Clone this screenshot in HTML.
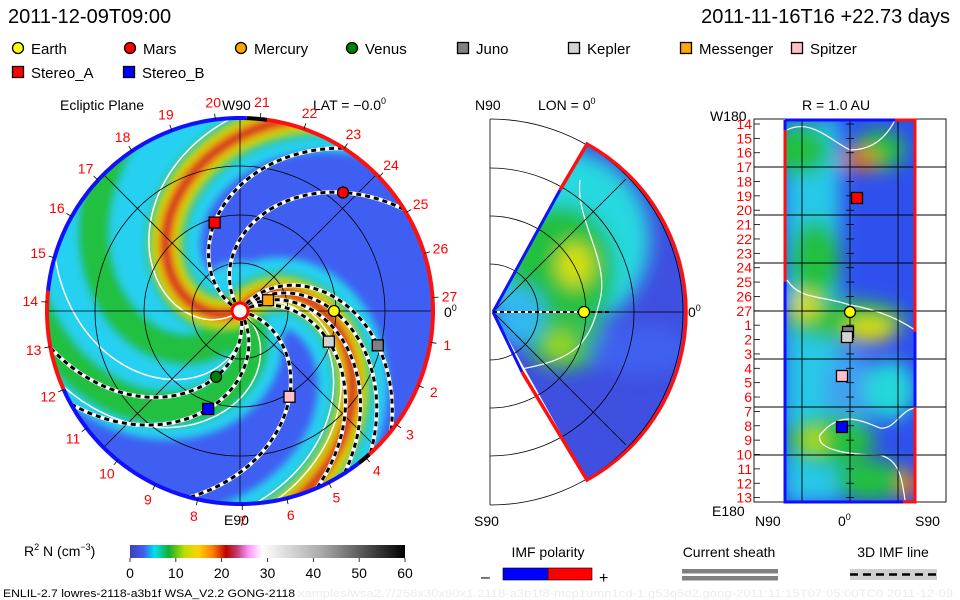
<!DOCTYPE html>
<html><head><meta charset="utf-8"><style>
html,body{margin:0;padding:0;background:#fff}
svg{display:block}
text{font-family:"Liberation Sans",sans-serif}
</style></head><body>
<svg id="s" width="960" height="600" viewBox="0 0 960 600" xmlns="http://www.w3.org/2000/svg">
<defs>
<filter id="bl" x="-20%" y="-20%" width="140%" height="140%"><feGaussianBlur stdDeviation="4"/></filter>
<filter id="bl2" x="-20%" y="-20%" width="140%" height="140%"><feGaussianBlur stdDeviation="9"/></filter>
<clipPath id="disk"><circle cx="240" cy="311" r="193"/></clipPath>
<clipPath id="wedge"><path d="M493,312 L587,144 A192,192 0 0 1 587,480 Z"/></clipPath>
<clipPath id="rect"><rect x="785" y="120" width="130" height="382"/></clipPath>
<linearGradient id="cb" x1="0" x2="1" y1="0" y2="0">
<stop offset="0" stop-color="#4040b0"/><stop offset="0.05" stop-color="#4060f0"/><stop offset="0.09" stop-color="#00e0f0"/>
<stop offset="0.14" stop-color="#10b030"/><stop offset="0.2" stop-color="#c0e000"/><stop offset="0.25" stop-color="#ffd000"/>
<stop offset="0.3" stop-color="#ff8000"/><stop offset="0.35" stop-color="#c00000"/><stop offset="0.39" stop-color="#c04070"/>
<stop offset="0.43" stop-color="#ff90ff"/><stop offset="0.48" stop-color="#ffffff"/><stop offset="0.7" stop-color="#a8a8a8"/><stop offset="1" stop-color="#000"/>
</linearGradient>
</defs>
<text x="8" y="23" font-size="20">2011-12-09T09:00</text>
<text x="950" y="23" font-size="20" text-anchor="end">2011-11-16T16 +22.73 days</text>
<g id="legend"></g>

<g>
<text x="60" y="110" font-size="14">Ecliptic Plane</text>
<text x="222" y="110" font-size="14">W90</text>
<text x="313" y="110" font-size="14">LAT = −0.0<tspan font-size="9" dy="-6">0</tspan></text>
<text x="224" y="525" font-size="14">E90</text>
<text x="444" y="317" font-size="14">0<tspan font-size="9" dy="-6">0</tspan></text>
<g clip-path="url(#disk)">
<rect x="40" y="110" width="400" height="400" fill="#3f5ff2"/>
<g id="bands" filter="url(#bl)"></g>
<g id="sheath"></g>
<g id="grid1" stroke="#000" stroke-width="0.8" fill="none"></g>
<g id="fieldlines"></g>
</g>
<g id="border1"></g>
<g id="labels1"></g>
<circle cx="240" cy="311" r="8" fill="#fff" stroke="#f00" stroke-width="3"/>
<g id="planets"></g>
</g>

<g>
<text x="475" y="110" font-size="14">N90</text>
<text x="538" y="110" font-size="14">LON = 0<tspan font-size="9" dy="-6">0</tspan></text>
<text x="474" y="526" font-size="14">S90</text>
<text x="688" y="317" font-size="14">0<tspan font-size="9" dy="-6">0</tspan></text>
<g clip-path="url(#wedge)">
<rect x="490" y="140" width="200" height="345" fill="#3f4fe0"/>
<g filter="url(#bl2)">
<ellipse cx="560" cy="240" rx="90" ry="90" fill="#28d8e0"/>
<ellipse cx="560" cy="270" rx="55" ry="65" fill="#20c040"/>
<ellipse cx="575" cy="265" rx="18" ry="22" fill="#d8e000"/>
<ellipse cx="565" cy="340" rx="40" ry="30" fill="#30c050"/>
<ellipse cx="560" cy="345" rx="14" ry="14" fill="#a0d800"/>
<ellipse cx="520" cy="315" rx="25" ry="30" fill="#30b8f0"/>
<ellipse cx="640" cy="350" rx="50" ry="25" fill="#4060f0"/>
</g>
<path d="M580,180 C575,220 610,260 600,300 C590,340 580,360 515,370" stroke="#fff" stroke-width="1.2" fill="none"/>
</g>
<g id="grid2" stroke="#000" stroke-width="0.8" fill="none"></g>
<path d="M493,312 L560,190" stroke="#1010ff" stroke-width="3" fill="none"/>
<path d="M493,312 L522,372" stroke="#1010ff" stroke-width="3" fill="none"/>
<path d="M560,190 L587,144 A192,192 0 0 1 587,480 L522,372" stroke="#ff1010" stroke-width="3.5" fill="none"/>
<line x1="493" y1="312" x2="580" y2="312" stroke="#fff" stroke-width="2"/>
<line x1="493" y1="312" x2="612" y2="312" stroke="#000" stroke-width="2" stroke-dasharray="4,3"/>
<circle cx="584" cy="312" r="5.5" fill="#ff0" stroke="#000" stroke-width="1.2"/>
</g>

<g>
<text x="802" y="110" font-size="14">R = 1.0 AU</text>
<text x="710" y="121" font-size="14">W180</text>
<text x="712" y="516" font-size="14">E180</text>
<text x="755" y="526" font-size="14">N90</text>
<text x="838" y="526" font-size="14">0<tspan font-size="9" dy="-6">0</tspan></text>
<text x="915" y="526" font-size="14">S90</text>
<g clip-path="url(#rect)">
<rect x="785" y="120" width="130" height="382" fill="#3050ee"/>
<g filter="url(#bl2)">
<rect x="785" y="120" width="55" height="382" fill="#28c8e8"/>
<ellipse cx="800" cy="150" rx="30" ry="25" fill="#20c040"/>
<ellipse cx="880" cy="150" rx="25" ry="20" fill="#20c040"/>
<ellipse cx="860" cy="160" rx="18" ry="10" fill="#f07000"/>
<ellipse cx="815" cy="260" rx="25" ry="40" fill="#20c040"/>
<ellipse cx="845" cy="320" rx="60" ry="20" fill="#30c040"/>
<ellipse cx="870" cy="330" rx="25" ry="12" fill="#e0e000"/>
<ellipse cx="805" cy="305" rx="14" ry="14" fill="#e0e000"/>
<ellipse cx="850" cy="390" rx="25" ry="40" fill="#40a0f0"/>
<ellipse cx="890" cy="390" rx="25" ry="30" fill="#20d8d8"/>
<ellipse cx="830" cy="440" rx="45" ry="25" fill="#20c040"/>
<ellipse cx="815" cy="440" rx="12" ry="12" fill="#c0e000"/>
<ellipse cx="870" cy="480" rx="35" ry="20" fill="#20c040"/>
<ellipse cx="910" cy="485" rx="8" ry="15" fill="#ff6000"/>
</g>
<path d="M787,130 C810,118 830,140 850,150 C870,150 885,140 895,120" stroke="#fff" stroke-width="1.2" fill="none"/>
<path d="M787,280 C800,300 820,295 850,305 C880,310 900,320 915,330" stroke="#fff" stroke-width="1.2" fill="none"/>
<path d="M915,408 C900,410 895,430 880,428 C860,420 840,410 820,435 C815,450 850,455 880,455 C900,460 902,480 905,500" stroke="#fff" stroke-width="1.2" fill="none"/>
</g>
<g id="grid3" stroke="#000" stroke-width="0.9" fill="none"></g>
<path d="M785,120 L785,502 L903,502" stroke="#1010ff" stroke-width="3" fill="none"/>
<path d="M785,120 L895,120" stroke="#1010ff" stroke-width="3" fill="none"/>
<path d="M785,130 L785,282" stroke="#ff1010" stroke-width="3" fill="none"/>
<path d="M895,120 L915,120 L915,332" stroke="#ff1010" stroke-width="3" fill="none"/>
<path d="M915,332 L915,407" stroke="#1010ff" stroke-width="3" fill="none"/>
<path d="M915,407 L915,502 L903,502" stroke="#ff1010" stroke-width="3" fill="none"/>
<g id="labels3"></g>
<g id="planets3"></g>
</g>

<g>
<text x="24" y="556" font-size="14">R<tspan font-size="9" dy="-6">2</tspan><tspan dy="6"> N (cm</tspan><tspan font-size="9" dy="-6">−3</tspan><tspan dy="6">)</tspan></text>
<rect x="130" y="545" width="275" height="13" fill="url(#cb)"/>
<g id="cbticks"></g>
</g>
<g>
<text x="548" y="557" font-size="14" text-anchor="middle">IMF polarity</text>
<text x="481" y="582" font-size="16">–</text>
<rect x="503" y="568" width="45" height="12" fill="#0000ff" stroke="#000" stroke-width="0.6"/>
<rect x="548" y="568" width="44" height="12" fill="#ff0000" stroke="#000" stroke-width="0.6"/>
<text x="599" y="583" font-size="16">+</text>
</g>
<g>
<text x="729" y="557" font-size="14" text-anchor="middle">Current sheath</text>
<rect x="682" y="569" width="96" height="4.5" fill="#808080"/>
<rect x="682" y="576" width="96" height="4.5" fill="#808080"/>
</g>
<g>
<text x="893" y="557" font-size="14" text-anchor="middle">3D IMF line</text>
<rect x="850" y="569" width="87" height="11" fill="#d0d0d0"/>
<line x1="850" y1="574.5" x2="937" y2="574.5" stroke="#000" stroke-width="2.5" stroke-dasharray="8,5"/>
</g>
<text x="3" y="597" font-size="11" textLength="292" lengthAdjust="spacingAndGlyphs">ENLIL-2.7 lowres-2118-a3b1f WSA_V2.2 GONG-2118</text>
<text x="298" y="597" font-size="11" textLength="655" lengthAdjust="spacingAndGlyphs" fill="#ececec">xamples/wsa2.7/256x30x90x1.2118-a3b1f8-mcp1umn1cd-1.g53q5d2.gong-2011:11:15T07:05:00TC0   2011-12-09</text>
</svg>
<script>
const NS="http://www.w3.org/2000/svg";
const CX=240,CY=311,R=193,K=0.64,KF=0.48;
const legendNames=["Earth","Mars","Mercury","Venus","Juno","Kepler","Messenger","Spitzer","Stereo_A","Stereo_B"];
const legendColors=["#ffff00","#ff0000","#ffa500","#008000","#808080","#d3d3d3","#ffa500","#ffc0cb","#ff0000","#0000ff"];
const legendShapes=["c","c","c","c","s","s","s","s","s","s"];
const planetNames=["Messenger","Venus","Earth","Kepler","Spitzer","Stereo_A","Stereo_B","Juno","Mars"];
const planetR=[30,70,94,94,99,92,103,142,157];
const planetLon=[21,250,0,-19,-60,106,252,-14,49];
const bandPhase=[258,311,202,53];
const bandPeak=[1,1,5,5];
const bandScale=[1.3,0.9,1,1];
const bandColors=["#28d0f0","#20c040","#90d800","#f0e000","#f08000","#d01020"];
const bandWidths=[70,40,30,22,15,9];
const sectorLabels=[1,2,3,4,5,6,7,8,9,10,11,12,13,14,15,16,17,18,19,20,21,22,23,24,25,26,27];
const cbTicks=[0,10,20,30,40,50,60];

function el(tag,attrs,parent){const e=document.createElementNS(NS,tag);for(const k in attrs)e.setAttribute(k,attrs[k]);parent.appendChild(e);return e;}
function P(r,a){const t=a*Math.PI/180;return [CX+r*Math.cos(t),CY-r*Math.sin(t)];}
function spiral(phi0,r0,r1,k){let d="";for(let r=r0;r<=r1;r+=3){const p=P(r,phi0-k*r);d+=(d?"L":"M")+p[0].toFixed(1)+","+p[1].toFixed(1);}return d;}

const lg=document.getElementById("legend");
const legX=[18,130,241,352,463,574,686,797];
legendNames.forEach((n,i)=>{
  const row=i<8?0:1;
  const x=i<8?legX[i]:(i===8?18:129), y=row?72:48;
  let m;
  if(legendShapes[i]==="c") m=el("circle",{cx:x,cy:y,r:5.5,fill:legendColors[i],stroke:"#000","stroke-width":1.3},lg);
  else m=el("rect",{x:x-5.5,y:y-5.5,width:11,height:11,fill:legendColors[i],stroke:"#000","stroke-width":1.3},lg);
  
  
  const t=el("text",{x:x+13,y:y+6,"font-size":15},lg);t.textContent=n;
  
  
});

const bg=document.getElementById("bands");
el("circle",{cx:CX,cy:CY,r:50,fill:"#30c8f0"},bg);
for(let c=0;c<6;c++){
  bandPhase.forEach((ph,b)=>{
    if(c>bandPeak[b])return;
    let w=bandWidths[c]*bandScale[b];
    if(b===0&&c===1)w=32;
    const p=el("path",{d:spiral(ph,5,260,K),stroke:bandColors[c],"stroke-width":w,fill:"none","stroke-linecap":"round"},bg);
    
    
  });
}
const sh=document.getElementById("sheath");
[[216,1.5],[44,1.5],[38,1.5],[287,1.5],[326,1.5]].forEach(a=>{
  const p=el("path",{d:spiral(a[0],8,260,K),stroke:"#fff","stroke-width":a[1],fill:"none"},sh);
  
  
});
const g1=document.getElementById("grid1");
[48,96,145].forEach(r=>el("circle",{cx:CX,cy:CY,r:r},g1));
[0,45,90,135].forEach(a=>{const p1=P(R,a),p2=P(R,a+180);el("line",{x1:p1[0],y1:p1[1],x2:p2[0],y2:p2[1]},g1);});
const fl=document.getElementById("fieldlines");
planetNames.forEach((n,i)=>{
  const ph=planetLon[i]+KF*planetR[i];
  el("path",{d:spiral(ph,10,260,KF),stroke:"#fff","stroke-width":4,fill:"none"},fl);
  const p=el("path",{d:spiral(ph,10,260,KF),stroke:"#000","stroke-width":3,fill:"none","stroke-dasharray":"5,4"},fl);
  
  
});
const b1=document.getElementById("border1");
function arc(a0,a1,col){let d="";for(let a=a0;a<=a1;a+=1){const p=P(R,a);d+=(d?"L":"M")+p[0].toFixed(1)+","+p[1].toFixed(1);}el("path",{d:d,stroke:col,"stroke-width":4,fill:"none"},b1);}
arc(-52,82,"#ff1010");arc(82,88,"#000");arc(88,174,"#1010ff");arc(174,204,"#ff1010");arc(204,308,"#1010ff");arc(308,312,"#000");
const l1=document.getElementById("labels1");
sectorLabels.forEach(k=>{
  const a=4+13.333*(27-k);const p=P(210,a);const q1=P(193,a),q2=P(199,a);
  el("line",{x1:q1[0],y1:q1[1],x2:q2[0],y2:q2[1],stroke:"#000","stroke-width":0.8},l1);
  const t=el("text",{x:p[0],y:p[1]+5,"font-size":14,fill:"#ff0000","text-anchor":"middle"},l1);t.textContent=k;
  
  
});
const pg=document.getElementById("planets");
planetNames.forEach((n,i)=>{
  const p=P(planetR[i],planetLon[i]);const li=legendNames.indexOf(n);let m;
  if(legendShapes[li]==="c") m=el("circle",{cx:p[0],cy:p[1],r:5.5,fill:legendColors[li],stroke:"#000","stroke-width":1.3},pg);
  else m=el("rect",{x:p[0]-5.5,y:p[1]-5.5,width:11,height:11,fill:legendColors[li],stroke:"#000","stroke-width":1.3},pg);
  
  
});
const g2=document.getElementById("grid2");
[48,96,144,193].forEach(r=>el("path",{d:`M490,${312-r} A${r},${r} 0 0 1 490,${312+r}`},g2));
el("line",{x1:490,y1:119,x2:490,y2:505},g2);
el("line",{x1:493,y1:312,x2:683,y2:312},g2);
el("line",{x1:493,y1:312,x2:626,y2:179},g2);
el("line",{x1:493,y1:312,x2:626,y2:445},g2);
const g3=document.getElementById("grid3");
el("rect",{x:754,y:119,width:192,height:383},g3);
[802,850,898].forEach(x=>el("line",{x1:x,y1:119,x2:x,y2:502},g3));
[167,215,263,311,359,407,455].forEach(y=>el("line",{x1:754,y1:y,x2:946,y2:y},g3));
const l3=document.getElementById("labels3");
const order=[14,15,16,17,18,19,20,21,22,23,24,25,26,27,1,2,3,4,5,6,7,8,9,10,11,12,13];
order.forEach((k,i)=>{
  const y=124+i*14.37;
  el("line",{x1:754,y1:y,x2:760,y2:y,stroke:"#000","stroke-width":0.8},l3);
  el("line",{x1:846,y1:y,x2:854,y2:y,stroke:"#000","stroke-width":0.8},l3);
  const t=el("text",{x:752,y:y+5,"font-size":14,fill:"#ff0000","text-anchor":"end"},l3);t.textContent=k;
  
  
});
const p3=document.getElementById("planets3");
[["Stereo_A",857,198],["Juno",848,332],["Kepler",847,337],["Spitzer",842,376],["Stereo_B",842,427]].forEach(a=>{
  const li=legendNames.indexOf(a[0]);
  const m=el("rect",{x:a[1]-5.5,y:a[2]-5.5,width:11,height:11,fill:legendColors[li],stroke:"#000","stroke-width":1.3},p3);
  
  
});
const e3=el("circle",{cx:850,cy:312,r:5.5,fill:"#ff0",stroke:"#000","stroke-width":1.3},p3);


const cg=document.getElementById("cbticks");
cbTicks.forEach(v=>{
  const x=130+v/60*275;
  el("line",{x1:x,y1:558,x2:x,y2:562,stroke:"#000","stroke-width":0.8},cg);
  const t=el("text",{x:x,y:578,"font-size":14,"text-anchor":"middle"},cg);t.textContent=v;
  
  
});
</script>
</body></html>
